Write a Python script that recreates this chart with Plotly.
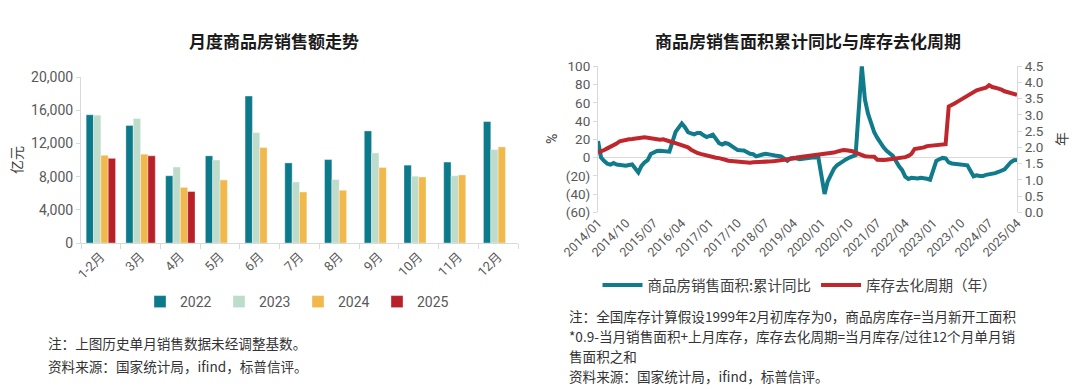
import plotly.graph_objects as go

W, H = 1080, 389
def fx(x): return x / W
def fy(y): return 1 - y / H

# ---------------- data: left chart (亿元) ----------------
bar_months = ["1-2月", "3月", "4月", "5月", "6月", "7月", "8月", "9月", "10月", "11月", "12月"]
sales_2022 = [15450, 14150, 8100, 10500, 17700, 9650, 10050, 13500, 9380, 9750, 14630]
sales_2023 = [15400, 15000, 9150, 10000, 13300, 7350, 7650, 10850, 8050, 8100, 11250]
sales_2024 = [10570, 10700, 6700, 7600, 11500, 6150, 6350, 9100, 7950, 8200, 11580]
sales_2025 = [10200, 10500, 6200]
bar_ticks = [0, 4000, 8000, 12000, 16000, 20000]
bar_ticktext = ["0", "4,000", "8,000", "12,000", "16,000", "20,000"]

# ---------------- data: right chart ----------------
dates = [f"{y}/{m:02d}" for y in range(2014, 2026) for m in range(1, 13)][:136]
yoy_2014 = [18.0, -0.1, -3.8, -6.8, -7.8, -6.0, -7.6, -8.3, -8.6, -8.9, -8.2, -7.6]
yoy_2015 = [None, -16.3, -9.2, -5.4, -2.8, 3.9, 6.1, 7.2, 7.5, 7.2, 7.4, 6.5]
yoy_2016 = [None, 28.2, 33.1, 37.4, 33.2, 27.9, 26.4, 25.5, 26.9, 26.8, 24.3, 22.5]
yoy_2017 = [None, 25.1, 19.5, 15.7, 14.3, 16.1, 15.0, 12.7, 10.3, 8.2, 7.9, 7.7]
yoy_2018 = [None, 4.1, 3.6, 1.3, 2.9, 3.3, 4.2, 4.0, 2.9, 2.2, 1.4, 1.3]
yoy_2019 = [None, -3.6, -0.9, -0.3, -1.6, -1.8, -1.3, -0.6, -0.1, 0.1, 0.2, -0.1]
yoy_2020 = [None, -39.9, -26.3, -19.3, -12.3, -8.4, -5.8, -3.3, -1.8, 0.0, 1.3, 2.6]
yoy_2021 = [None, 100.5, 63.8, 48.1, 36.3, 27.7, 21.5, 15.9, 11.3, 7.3, 4.8, 1.9]
yoy_2022 = [None, -9.6, -13.8, -20.9, -23.6, -22.2, -23.1, -23.0, -22.2, -22.3, -23.3, -24.3]
yoy_2023 = [None, -3.6, -1.8, -0.4, -0.9, -5.3, -6.5, -7.1, -7.5, -7.8, -8.0, -8.5]
yoy_2024 = [None, -20.5, -19.4, -20.2, -20.3, -19.0, -18.6, -18.0, -17.1, -15.8, -14.3, -12.9]
yoy_2025 = [None, -5.1, -3.0, -2.8]

cyc_2014 = [1.84, 1.87, 1.92, 1.97, 2.01, 2.06, 2.12, 2.19, 2.22, 2.24, 2.25, 2.26]
cyc_2015 = [2.28, 2.29, 2.30, 2.31, 2.30, 2.28, 2.25, 2.23, 2.24, 2.25, 2.23, 2.19]
cyc_2016 = [2.16, 2.13, 2.10, 2.08, 2.05, 2.00, 1.93, 1.87, 1.83, 1.80, 1.77, 1.74]
cyc_2017 = [1.72, 1.70, 1.68, 1.67, 1.66, 1.62, 1.59, 1.58, 1.57, 1.56, 1.55, 1.54]
cyc_2018 = [1.53, 1.53, 1.54, 1.54, 1.55, 1.55, 1.56, 1.57, 1.57, 1.58, 1.59, 1.60]
cyc_2019 = [1.61, 1.62, 1.64, 1.66, 1.69, 1.70, 1.72, 1.73, 1.75, 1.76, 1.76, 1.77]
cyc_2020 = [1.78, 1.79, 1.80, 1.82, 1.84, 1.87, 1.90, 1.92, 1.91, 1.90, 1.88, 1.84]
cyc_2021 = [1.80, 1.76, 1.73, 1.72, 1.71, 1.71, 1.62, 1.60, 1.61, 1.62, 1.63, 1.64]
cyc_2022 = [1.64, 1.65, 1.67, 1.70, 1.74, 1.80, 1.95, 1.96, 1.97, 2.00, 2.04, 2.05]
cyc_2023 = [2.05, 2.04, 2.05, 2.06, 2.10, 3.26, 3.30, 3.36, 3.42, 3.48, 3.53, 3.58]
cyc_2024 = [3.66, 3.72, 3.76, 3.79, 3.82, 3.84, 3.92, 3.86, 3.84, 3.82, 3.78, 3.73]
cyc_2025 = [3.70, 3.68, 3.65, 3.62]

yoy_ticks = [-60, -40, -20, 0, 20, 40, 60, 80, 100]
yoy_ticktext = ["(60)", "(40)", "(20)", "0", "20", "40", "60", "80", "100"]
cyc_ticks = [0, 0.5, 1.0, 1.5, 2.0, 2.5, 3.0, 3.5, 4.0, 4.5]
cyc_ticktext = ["0.0", "0.5", "1.0", "1.5", "2.0", "2.5", "3.0", "3.5", "4.0", "4.5"]
date_ticks = dates[::9]

yoy = (yoy_2014 + yoy_2015 + yoy_2016 + yoy_2017 + yoy_2018 + yoy_2019 + yoy_2020
       + yoy_2021 + yoy_2022 + yoy_2023 + yoy_2024 + yoy_2025)
cyc = (cyc_2014 + cyc_2015 + cyc_2016 + cyc_2017 + cyc_2018 + cyc_2019 + cyc_2020
       + cyc_2021 + cyc_2022 + cyc_2023 + cyc_2024 + cyc_2025)

# ---------------- styles ----------------
TEAL = "#0c7a8b"
MINT = "#bddccb"
GOLD = "#f1b94c"
RED = "#b8212a"
LRED = "#c0272d"
GRAY = "#595959"
AX = "#d9d9d9"
NUM_FONT = "Roboto, Noto Sans CJK SC, sans-serif"
CJK = "Noto Sans CJK SC, sans-serif"

fig = go.Figure()
for name, vals, col in [("2022", sales_2022, TEAL), ("2023", sales_2023, MINT),
                        ("2024", sales_2024, GOLD), ("2025", sales_2025, RED)]:
    fig.add_trace(go.Bar(x=bar_months[:len(vals)], y=vals, name=name, marker_color=col,
                         marker_line_color="rgba(255,255,255,0.6)", marker_line_width=0.6,
                         xaxis="x", yaxis="y", legend="legend"))

fig.add_trace(go.Scatter(x=dates, y=yoy, name="商品房销售面积:累计同比", mode="lines",
                         line=dict(color="#107b8a", width=4), connectgaps=True,
                         xaxis="x2", yaxis="y2", legend="legend2"))
fig.add_trace(go.Scatter(x=dates, y=cyc, name="库存去化周期（年）", mode="lines",
                         line=dict(color=LRED, width=4), connectgaps=True,
                         xaxis="x2", yaxis="y3", legend="legend2"))

fig.update_layout(
    width=W, height=H, margin=dict(l=0, r=0, t=0, b=0, autoexpand=False),
    paper_bgcolor="white", plot_bgcolor="white",
    font=dict(family=NUM_FONT, color=GRAY, size=13),
    barmode="group", bargap=0.26, bargroupgap=0,
    xaxis=dict(domain=[fx(81), fx(518)], anchor="y", type="category", automargin=False,
               tickangle=-45, tickson="boundaries", ticks="outside", ticklen=5,
               tickcolor=AX, showline=True, linecolor=AX, linewidth=1,
               tickfont=dict(size=13, color=GRAY, family=NUM_FONT), showgrid=False),
    yaxis=dict(domain=[fy(243), fy(77)], anchor="x", range=[0, 20000], automargin=False,
               tickvals=bar_ticks, ticktext=bar_ticktext, showgrid=False,
               showline=True, linecolor=AX, ticks="outside", ticklen=4, tickcolor=AX,
               tickfont=dict(size=14, color=GRAY), zeroline=False),
    xaxis2=dict(domain=[fx(598), fx(1017)], anchor="y2", type="category", automargin=False,
                range=[0, len(dates) - 1], tickvals=date_ticks, tickangle=-45,
                ticks="", showline=False, showgrid=False,
                tickfont=dict(size=12.5, color=GRAY)),
    yaxis2=dict(domain=[fy(212.3), fy(66.3)], anchor="x2", range=[-60, 100], automargin=False,
                tickvals=yoy_ticks, ticktext=yoy_ticktext, showgrid=False,
                showline=True, linecolor=AX, ticks="outside", ticklen=4, tickcolor=AX,
                zeroline=True, zerolinecolor=AX, zerolinewidth=1,
                tickfont=dict(size=13.5, color=GRAY)),
    yaxis3=dict(overlaying="y2", side="right", anchor="x2", range=[0, 4.5], automargin=False,
                tickvals=cyc_ticks, ticktext=cyc_ticktext, showgrid=False,
                showline=True, linecolor=AX, ticks="outside", ticklen=4, tickcolor=AX,
                zeroline=False, tickfont=dict(size=13.5, color=GRAY)),
    legend=dict(orientation="h", x=fx(298), xanchor="center", y=fy(302), yanchor="middle",
                font=dict(size=14, color=GRAY), itemwidth=30, traceorder="normal",
                entrywidth=34, entrywidthmode="pixels",
                bgcolor="rgba(0,0,0,0)"),
    legend2=dict(orientation="h", x=fx(800), xanchor="center", y=fy(285), yanchor="middle",
                 font=dict(size=14.5, color="#404040", family=CJK), itemwidth=40,
                 bgcolor="rgba(0,0,0,0)"),
    showlegend=True,
)

def A(text, x, y, size, color, family, angle=0, xanchor="center"):
    return dict(text=text, x=fx(x), y=fy(y), xref="paper", yref="paper", textangle=angle,
                xanchor=xanchor, yanchor="middle", showarrow=False,
                font=dict(size=size, color=color, family=family))

ann = [
    A("<b>月度商品房销售额走势</b>", 274, 40, 17, "#1a1a1a", CJK),
    A("<b>商品房销售面积累计同比与库存去化周期</b>", 808, 40, 17, "#1a1a1a", CJK),
    A("亿元", 16, 160, 14, "#404040", CJK, -90),
    A("%", 552, 139, 14, "#404040", NUM_FONT, -90),
    A("年", 1061, 139, 14, "#404040", CJK, -90),
]

left_notes = ["注：上图历史单月销售数据未经调整基数。", "资料来源：国家统计局，ifind，标普信评。"]
for i, t in enumerate(left_notes):
    ann.append(A(t, 46, 343 + 23 * i, 13.6, "#333333", CJK, 0, "left"))
right_notes = ["注：全国库存计算假设1999年2月初库存为0，商品房库存=当月新开工面积",
               "*0.9-当月销售面积+上月库存，库存去化周期=当月库存/过往12个月单月销",
               "售面积之和",
               "资料来源：国家统计局，ifind，标普信评。"]
for i, t in enumerate(right_notes):
    ann.append(A(t, 567, 316 + 20 * i, 13.6, "#333333", CJK, 0, "left"))
fig.update_layout(annotations=ann)

fig.write_html("out.html", config={"displayModeBar": False},
               post_script="document.body.style.margin='0';")
